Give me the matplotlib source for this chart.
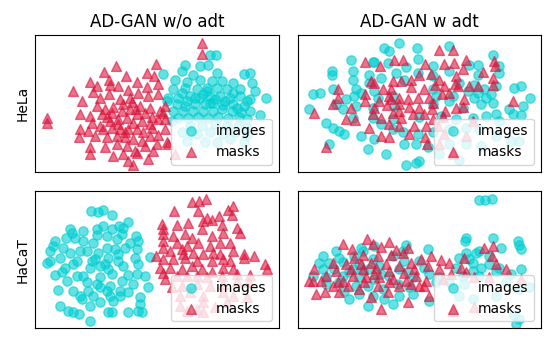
import numpy as np
import matplotlib
matplotlib.use("Agg")
import matplotlib.pyplot as plt

# 2-D embedding coordinates (arbitrary t-SNE units)
hela_wo_images = [
    (540, 75), (557, 77), (535, 105), (465, 105), (510, 110), (455, 125), (398, 133), (490, 135),
    (562, 130), (640, 132), (660, 130), (435, 150), (470, 157), (510, 150), (545, 155), (575, 155),
    (610, 160), (665, 160), (430, 178), (465, 175), (500, 180), (530, 175), (560, 175), (590, 178),
    (630, 180), (675, 185), (415, 205), (445, 205), (480, 200), (510, 205), (540, 200), (570, 200),
    (600, 205), (630, 200), (660, 208), (708, 205), (410, 215), (440, 225), (465, 230), (495, 225),
    (525, 225), (550, 220), (580, 228), (610, 225), (640, 230), (430, 245), (460, 245), (490, 245),
    (520, 245), (548, 245), (575, 240), (605, 245), (632, 248), (660, 245), (690, 258), (445, 265),
    (475, 265), (505, 262), (535, 265), (565, 262), (595, 265), (625, 262), (650, 270), (425, 275),
    (480, 290), (515, 290), (555, 285), (590, 290), (625, 288), (650, 295), (455, 310), (500, 315),
    (540, 310), (580, 315), (615, 310), (650, 318), (470, 335), (525, 340), (560, 338), (600, 330),
    (640, 340), (540, 220), (555, 210), (520, 195), (585, 215), (455, 190), (495, 205), (610, 190),
    (650, 215), (620, 235), (470, 215), (530, 185),
]
hela_wo_masks = [
    (517, 38), (517, 72), (378, 103), (258, 110), (222, 128), (288, 138), (350, 130), (373, 138),
    (236, 150), (180, 158), (321, 158), (200, 170), (240, 165), (130, 185), (190, 187), (265, 168),
    (295, 182), (352, 172), (385, 163), (238, 195), (155, 215), (210, 205), (270, 208), (300, 205),
    (325, 190), (355, 200), (385, 195), (200, 230), (225, 240), (250, 232), (280, 225), (305, 218),
    (330, 230), (360, 235), (150, 255), (180, 260), (215, 255), (245, 250), (275, 245), (300, 240),
    (320, 255), (345, 250), (365, 262), (390, 245), (405, 270), (52, 265), (50, 282), (185, 280),
    (210, 290), (240, 275), (265, 270), (290, 265), (310, 280), (335, 275), (360, 285), (385, 270),
    (150, 300), (195, 320), (220, 300), (245, 295), (270, 298), (295, 300), (320, 300), (340, 310),
    (365, 295), (385, 318), (405, 300), (148, 325), (175, 305), (230, 325), (260, 320), (285, 325),
    (310, 330), (335, 335), (360, 322), (380, 345), (410, 340), (180, 355), (225, 355), (260, 345),
    (290, 350), (315, 365), (345, 350), (370, 365), (180, 375), (250, 380), (280, 375), (320, 372),
    (355, 390), (295, 395), (310, 408), (435, 375), (400, 250), (405, 230), (415, 345), (265, 285),
    (230, 262), (318, 240), (285, 310),
]

hela_w_images = [
    (318, 38), (275, 55), (290, 65), (372, 55), (468, 50), (600, 75), (175, 90), (245, 98),
    (285, 100), (375, 88), (420, 110), (340, 113), (530, 105), (555, 105), (118, 125), (118, 135),
    (180, 125), (230, 135), (310, 130), (375, 130), (470, 125), (620, 130), (182, 152), (265, 145),
    (335, 150), (420, 140), (555, 135), (610, 170), (665, 175), (685, 170), (60, 195), (82, 190),
    (120, 180), (190, 180), (245, 185), (500, 160), (525, 185), (555, 190), (595, 195), (712, 205),
    (185, 200), (255, 205), (300, 200), (430, 200), (480, 200), (545, 205), (580, 205), (48, 240),
    (150, 240), (190, 230), (240, 235), (420, 225), (470, 215), (510, 235), (565, 225), (600, 220),
    (650, 240), (690, 230), (100, 280), (120, 295), (140, 305), (155, 315), (180, 265), (240, 265),
    (300, 270), (380, 262), (445, 260), (490, 270), (540, 265), (580, 260), (620, 275), (685, 258),
    (205, 320), (265, 285), (300, 300), (330, 310), (375, 315), (420, 310), (470, 300), (520, 295),
    (560, 300), (610, 320), (680, 335), (110, 345), (225, 360), (245, 330), (280, 375), (335, 345),
    (370, 345), (405, 355), (440, 375), (470, 345), (520, 345), (565, 350), (655, 335), (340, 408),
    (370, 402), (380, 395), (500, 392), (240, 98), (620, 110), (610, 255), (660, 255), (545, 165),
    (575, 180), (160, 210), (130, 225), (420, 180), (305, 230), (205, 190), (230, 160),
]
hela_w_masks = [
    (480, 60), (440, 62), (305, 90), (330, 92), (218, 98), (262, 108), (398, 102), (455, 103),
    (485, 100), (520, 90), (605, 95), (607, 108), (510, 118), (235, 155), (245, 160), (300, 153),
    (325, 155), (355, 150), (380, 135), (415, 132), (440, 150), (490, 140), (570, 128), (600, 145),
    (270, 180), (295, 180), (355, 172), (395, 180), (428, 165), (455, 170), (488, 162), (495, 170),
    (530, 170), (555, 170), (135, 178), (137, 205), (218, 195), (218, 215), (260, 215), (295, 210),
    (320, 205), (345, 210), (375, 207), (408, 205), (448, 195), (515, 210), (600, 165), (660, 215),
    (120, 225), (175, 235), (245, 235), (283, 228), (320, 225), (350, 233), (378, 235), (418, 240),
    (458, 245), (490, 235), (512, 232), (65, 250), (160, 270), (188, 272), (265, 265), (300, 250),
    (325, 265), (360, 255), (393, 255), (420, 270), (450, 262), (230, 295), (290, 285), (320, 290),
    (365, 290), (400, 290), (435, 290), (540, 275), (265, 322), (288, 325), (350, 315), (398, 325),
    (440, 345), (520, 320), (100, 355), (403, 345), (480, 375), (455, 315), (320, 245), (240, 255),
    (290, 200), (420, 220), (470, 190),
]

hacat_wo_images = [
    (183, 75), (205, 78), (218, 72), (247, 85), (295, 108), (220, 120), (245, 130), (268, 118),
    (280, 125), (120, 128), (125, 140), (160, 135), (108, 155), (135, 155), (200, 148), (230, 150),
    (275, 145), (318, 150), (75, 165), (160, 165), (190, 170), (260, 160), (325, 165), (70, 180),
    (100, 185), (150, 195), (230, 185), (255, 190), (285, 185), (320, 190), (60, 195), (120, 200),
    (170, 195), (205, 200), (265, 205), (360, 212), (90, 215), (140, 225), (195, 220), (225, 235),
    (265, 225), (315, 215), (50, 230), (60, 225), (105, 245), (130, 235), (180, 245), (235, 250),
    (280, 240), (325, 235), (75, 268), (95, 260), (140, 270), (160, 270), (210, 275), (245, 265),
    (295, 268), (320, 265), (345, 272), (110, 285), (170, 290), (200, 295), (240, 300), (275, 285),
    (310, 295), (85, 312), (130, 315), (175, 315), (210, 305), (230, 315), (270, 315), (295, 320),
    (355, 305), (155, 340), (190, 330), (240, 330), (270, 330), (330, 335), (90, 360), (115, 375),
    (130, 378), (148, 385), (210, 350), (235, 380), (245, 378), (295, 378), (325, 375), (335, 378),
    (180, 408), (235, 215), (210, 240), (185, 225), (300, 170), (180, 360), (200, 130), (150, 330),
    (330, 355), (250, 345),
]
hacat_wo_masks = [
    (485, 48), (507, 45), (528, 38), (432, 75), (505, 75), (530, 95), (568, 88), (595, 72),
    (610, 60), (395, 112), (398, 130), (440, 115), (475, 110), (520, 105), (545, 100), (575, 115),
    (620, 125), (398, 145), (430, 150), (465, 145), (485, 155), (515, 128), (545, 150), (580, 140),
    (630, 140), (400, 165), (440, 170), (470, 180), (505, 170), (540, 180), (570, 170), (600, 170),
    (400, 185), (420, 195), (455, 190), (490, 200), (520, 205), (550, 200), (570, 205), (610, 195),
    (640, 205), (670, 210), (378, 210), (400, 220), (430, 220), (465, 215), (500, 225), (545, 225),
    (580, 220), (640, 215), (705, 235), (710, 250), (390, 245), (420, 245), (455, 250), (485, 240),
    (515, 250), (545, 260), (580, 245), (610, 250), (400, 262), (440, 270), (470, 270), (500, 270),
    (530, 275), (575, 270), (620, 265), (660, 268), (405, 280), (425, 305), (455, 300), (500, 295),
    (540, 300), (580, 295), (620, 285), (655, 290), (450, 330), (480, 320), (520, 330), (580, 320),
    (610, 330), (470, 375), (500, 370), (520, 380), (555, 365), (590, 350), (650, 335), (450, 360),
    (520, 350), (460, 205), (600, 225), (605, 85),
]

hacat_w_images = [
    (560, 42), (578, 42), (598, 38), (520, 155), (518, 165), (600, 155), (625, 185), (675, 165),
    (680, 178), (685, 188), (340, 178), (205, 185), (245, 180), (405, 190), (130, 195), (210, 195),
    (330, 195), (520, 200), (550, 200), (560, 195), (92, 210), (140, 215), (185, 210), (240, 220),
    (300, 210), (590, 210), (80, 230), (110, 230), (150, 228), (200, 235), (260, 240), (335, 225),
    (380, 225), (540, 230), (565, 245), (685, 250), (90, 250), (125, 250), (170, 260), (210, 255),
    (265, 265), (320, 250), (345, 260), (395, 245), (490, 245), (540, 255), (620, 245), (60, 270),
    (100, 275), (150, 270), (200, 275), (245, 280), (290, 270), (360, 275), (410, 265), (510, 270),
    (560, 270), (610, 260), (655, 265), (100, 295), (140, 290), (190, 300), (225, 300), (270, 310),
    (315, 295), (350, 305), (430, 290), (470, 290), (515, 295), (640, 290), (710, 305), (155, 315),
    (200, 325), (240, 330), (275, 340), (320, 330), (360, 325), (410, 345), (500, 330), (540, 340),
    (610, 330), (680, 310), (170, 340), (225, 360), (300, 355), (665, 390), (680, 400), (670, 415),
    (180, 250), (230, 250), (440, 275), (590, 235), (500, 215), (530, 220),
]
hacat_w_masks = [
    (222, 160), (290, 168), (152, 175), (240, 173), (265, 183), (310, 192), (345, 185), (178, 190),
    (185, 215), (212, 208), (255, 210), (295, 208), (330, 200), (415, 210), (120, 230), (160, 235),
    (235, 230), (280, 235), (320, 240), (355, 230), (385, 218), (445, 222), (470, 230), (505, 245),
    (515, 215), (575, 185), (600, 180), (598, 210), (610, 235), (640, 250), (65, 250), (100, 270),
    (130, 255), (175, 250), (210, 250), (250, 245), (290, 255), (335, 262), (365, 250), (405, 240),
    (440, 250), (475, 265), (520, 260), (48, 285), (85, 285), (150, 285), (180, 270), (220, 275),
    (260, 275), (300, 280), (340, 285), (370, 270), (400, 285), (450, 280), (545, 275), (590, 275),
    (120, 300), (165, 300), (215, 290), (255, 300), (290, 290), (320, 300), (355, 295), (378, 300),
    (410, 330), (70, 325), (98, 320), (140, 320), (200, 310), (235, 335), (285, 320), (345, 350),
    (265, 370), (480, 375), (545, 365), (685, 280), (60, 285), (205, 235), (245, 265), (395, 300),
    (135, 290),
]

col_titles = ["AD-GAN w/o adt", "AD-GAN w adt"]
row_labels = ["HeLa", "HaCaT"]
panels = [[(hela_wo_images, hela_wo_masks), (hela_w_images, hela_w_masks)],
          [(hacat_wo_images, hacat_wo_masks), (hacat_w_images, hacat_w_masks)]]

fig, axes = plt.subplots(2, 2, figsize=(5.55, 3.49), dpi=100)
fig.subplots_adjust(left=0.063, right=0.975, top=0.900, bottom=0.060, wspace=0.078, hspace=0.146)

for i in range(2):
    for j in range(2):
        ax = axes[i, j]
        imgs = np.array(panels[i][j][0])
        msks = np.array(panels[i][j][1])
        ax.scatter(imgs[:, 0], imgs[:, 1], s=45, marker="o", color="darkturquoise", alpha=0.6,
                   label="images")
        ax.scatter(msks[:, 0], msks[:, 1], s=50, marker="^", color="crimson", alpha=0.6,
                   label="masks")
        ax.set_xlim(15, 745)
        ax.set_ylim(428, 15)
        ax.set_xticks([])
        ax.set_yticks([])
        ax.legend(loc="lower right")
        if i == 0:
            ax.set_title(col_titles[j], fontsize=12)
        if j == 0:
            ax.set_ylabel(row_labels[i])

fig.savefig("out.png", dpi=100)
